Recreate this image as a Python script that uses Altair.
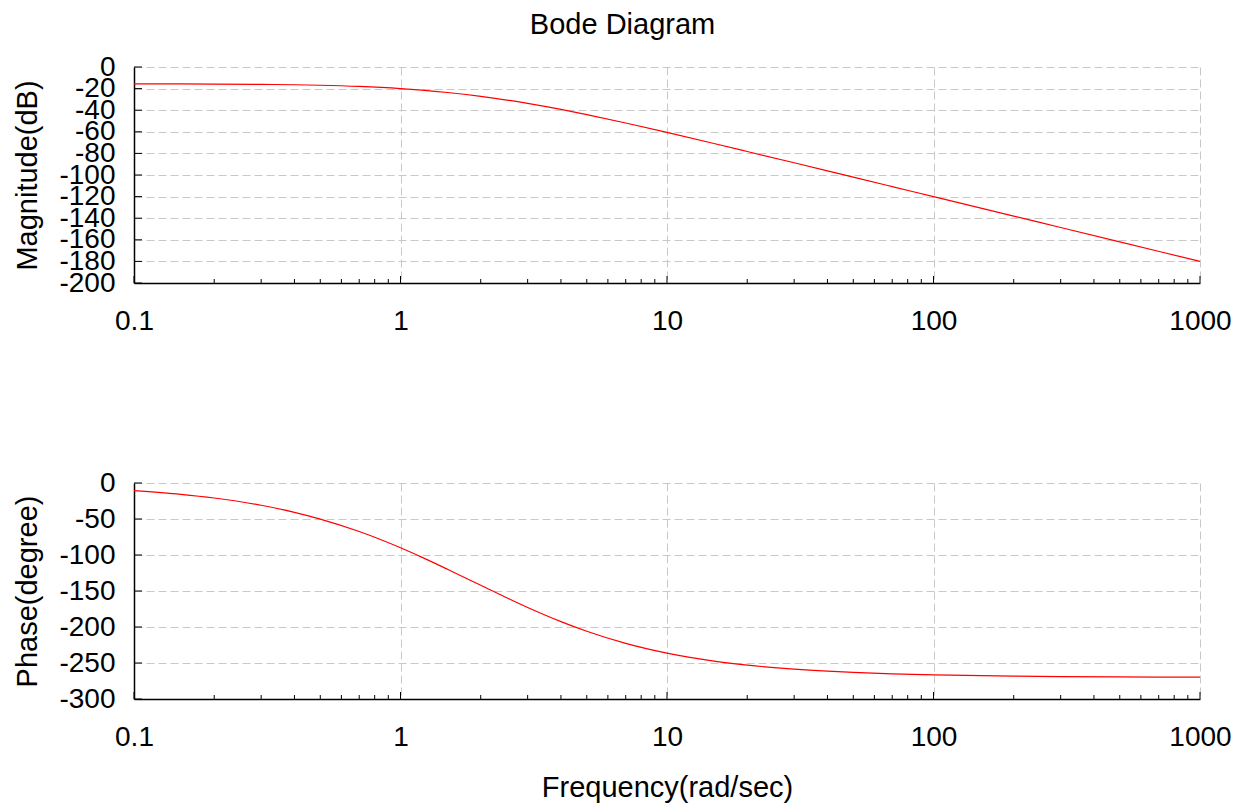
import altair as alt
import pandas as pd

# Frequencies (rad/s) and values
freq = [0.1, 0.15, 0.2, 0.3, 0.4, 0.5, 0.7, 1, 1.2, 1.5, 2, 3, 4, 5, 7, 10, 15, 20, 30, 40, 50, 70,
        100, 200, 300, 500, 1000]
magnitude_db = [-15.62, -15.70, -15.80, -16.08, -16.45, -16.91, -18.03, -20.0, -21.42, -23.59, -27.16,
                -33.69, -39.29, -44.09, -51.87, -60.59, -70.83, -78.21, -88.69, -96.16, -101.96,
                -110.72, -120.01, -138.06, -148.63, -161.94, -180.0]
phase_deg = [-10.48, -15.68, -20.83, -30.94, -40.70, -50.07, -67.41, -90.0, -102.95, -119.75, -142.12,
             -172.88, -192.52, -205.93, -222.72, -236.28, -247.29, -252.90, -258.57, -261.42, -263.13,
             -265.09, -266.56, -268.28, -268.86, -269.32, -269.66]

x_major = [0.1, 1, 10, 100, 1000]
x_minor = [0.2, 0.3, 0.4, 0.5, 0.6, 0.7, 0.8, 0.9,
           2, 3, 4, 5, 6, 7, 8, 9,
           20, 30, 40, 50, 60, 70, 80, 90,
           200, 300, 400, 500, 600, 700, 800, 900]
mag_ticks = [0, -20, -40, -60, -80, -100, -120, -140, -160, -180, -200]
phase_ticks = [0, -50, -100, -150, -200, -250, -300]

df = pd.DataFrame({"w": freq, "mag": magnitude_db, "phase": phase_deg})

W, H = 1066, 216
FONT = "Liberation Sans"


def panel(col, ydom, yticks, ytitle, xtitle):
    xscale = alt.Scale(type="log", domain=[0.1, 1000], nice=False)
    yscale = alt.Scale(domain=ydom, nice=False, zero=False)
    xaxis = alt.Axis(values=x_major, labelExpr="datum.value + ''", title=xtitle, grid=True,
                     gridDash=[8, 4], gridColor="#c8c8c8", gridWidth=1, ticks=False, tickSize=0,
                     labelFontSize=28, labelFont=FONT, labelColor="black", labelPadding=24,
                     labelFlush=False, labelOverlap=False, domainColor="black", domainWidth=1.5,
                     titleFontSize=29, titleFont=FONT, titleFontWeight="normal",
                     titleColor="black", titlePadding=22)
    yaxis = alt.Axis(values=yticks, labelExpr="datum.value + ''", title=ytitle, grid=True,
                     gridDash=[8, 4], gridColor="#c8c8c8", gridWidth=1, ticks=False, tickSize=0,
                     labelFontSize=28, labelFont=FONT, labelColor="black", labelPadding=19,
                     labelOverlap=False, labelFlush=False, labelBound=False,
                     domainColor="black", domainWidth=1.5, titleFontSize=29, titleFont=FONT,
                     titleFontWeight="normal", titleColor="black", titlePadding=16)
    line = alt.Chart(df).mark_line(color="red", strokeWidth=1.2, interpolate="monotone").encode(
        x=alt.X("w:Q", scale=xscale, axis=xaxis),
        y=alt.Y(f"{col}:Q", scale=yscale, axis=yaxis),
    )
    ytick = alt.Chart(pd.DataFrame({col: yticks})).mark_rule(color="black", strokeWidth=1).encode(
        y=alt.Y(f"{col}:Q", scale=yscale, axis=yaxis), x=alt.value(0), x2=alt.value(8))
    xmin = alt.Chart(pd.DataFrame({"w": x_minor})).mark_rule(color="black", strokeWidth=1).encode(
        x=alt.X("w:Q", scale=xscale, axis=xaxis), y=alt.value(H), y2=alt.value(H - 4))
    xmaj = alt.Chart(pd.DataFrame({"w": x_major})).mark_rule(color="black", strokeWidth=1).encode(
        x=alt.X("w:Q", scale=xscale, axis=xaxis), y=alt.value(H), y2=alt.value(H - 7))
    return alt.layer(line, ytick, xmin, xmaj).properties(width=W, height=H)


top = panel("mag", [-200, 0], mag_ticks, "Magnitude(dB)", None)
bottom = panel("phase", [-300, 0], phase_ticks, "Phase(degree)", "Frequency(rad/sec)")

chart = alt.vconcat(top, bottom, spacing=134).properties(
    title=alt.TitleParams("Bode Diagram", fontSize=29, font=FONT, fontWeight="normal",
                          color="black", anchor="middle", offset=13),
    padding={"left": 5, "top": 3, "right": 5, "bottom": 5},
).configure_view(stroke=None)

chart.save("out.html", embed_options={"renderer": "svg", "actions": False})
